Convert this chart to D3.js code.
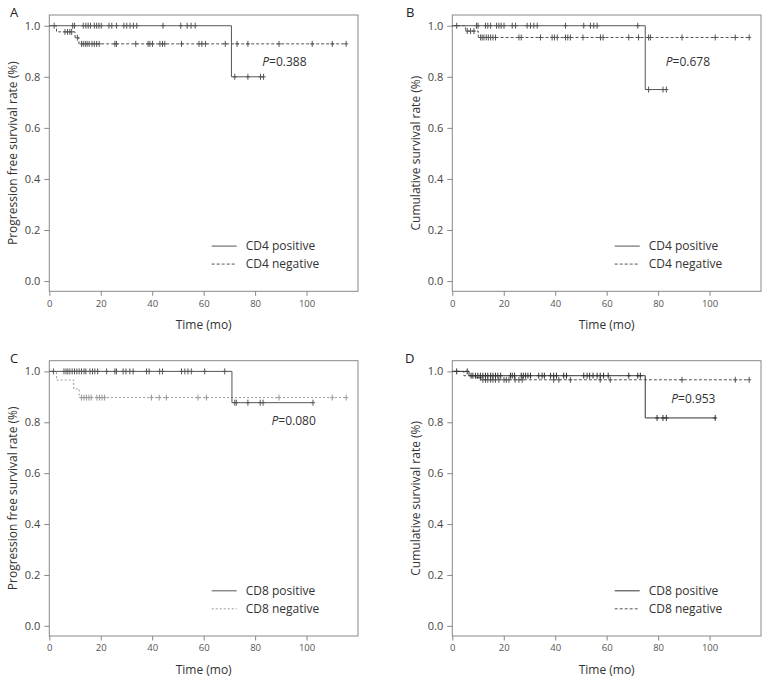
<!DOCTYPE html>
<html>
<head>
<meta charset="utf-8">
<script src="https://cdn.jsdelivr.net/npm/d3@7"></script>
<style>
  html, body { margin: 0; padding: 0; background: #fff; }
  svg { display: block; font-family: "Open Sans", "Noto Sans", sans-serif; }
</style>
</head>
<body>
<svg id="chart" width="767" height="681"></svg>
<script>
// ---------------- DATA ----------------
const panelLetters = ["A", "B", "C", "D"];
const yTitles = ["Progression free survival rate (%)", "Cumulative survival rate (%)",
                 "Progression free survival rate (%)", "Cumulative survival rate (%)"];
const xTitle = "Time (mo)";
const xTicks = [0, 20, 40, 60, 80, 100];
const yTicks = [0.0, 0.2, 0.4, 0.6, 0.8, 1.0];
const legendA = ["CD4 positive", "CD4 negative"];
const legendC = ["CD8 positive", "CD8 negative"];
const pValues = ["0.388", "0.678", "0.080", "0.953"];

// Panel A
const aPosEvents = [[70.8, 0.80]];
const aPosEnd = 83.5;
const aPosCensor = [1.9, 9.1, 9.8, 13.2, 14.2, 15.1, 16.0, 17.5, 18.4, 19.3, 20.2, 23.2, 24.3, 26.1, 29.0, 30.1, 31.4, 32.7, 34.0, 44.2, 51.1, 53.6, 55.1, 56.7, 72.1, 77.2, 82.1, 83.3];
const aNegEvents = [[2.8, 0.976], [10.0, 0.953], [11.5, 0.929]];
const aNegEnd = 115.5;
const aNegCensor = [6.1, 7.1, 8.0, 8.7, 10.9, 12.5, 13.2, 14.0, 14.7, 15.5, 16.6, 17.5, 18.4, 19.4, 25.5, 26.1, 33.6, 38.4, 39.1, 40.1, 43.0, 44.0, 44.9, 51.4, 58.2, 59.3, 60.7, 68.4, 73.0, 77.2, 89.3, 102.2, 110.0, 115.4];

// Panel B
const bPosEvents = [[75.0, 0.75]];
const bPosEnd = 83.5;
const bPosCensor = [1.7, 9.4, 10.0, 12.9, 13.8, 14.9, 17.2, 18.1, 19.0, 20.1, 23.3, 24.6, 29.1, 30.4, 31.7, 33.0, 44.0, 51.1, 53.7, 55.0, 56.3, 72.1, 76.3, 81.9, 83.2];
const bNegEvents = [[5.2, 0.979], [10.1, 0.954]];
const bNegEnd = 115.5;
const bNegCensor = [5.8, 7.1, 8.4, 11.0, 11.6, 12.3, 13.2, 14.0, 14.9, 15.8, 16.8, 25.9, 26.8, 34.3, 38.8, 39.7, 40.8, 44.0, 44.9, 45.9, 50.8, 57.6, 58.6, 68.6, 72.4, 76.3, 77.0, 89.3, 102.2, 110.0, 115.4];

// Panel C
const cPosEvents = [[71.0, 0.877]];
const cPosEnd = 102.5;
const cPosCensor = [1.6, 5.7, 6.5, 7.2, 8.0, 8.9, 9.8, 10.7, 11.6, 12.5, 13.5, 14.2, 15.8, 16.8, 17.7, 18.8, 22.3, 25.5, 26.1, 28.7, 29.8, 31.3, 32.6, 37.8, 38.8, 42.9, 44.0, 51.4, 52.7, 53.9, 55.2, 60.4, 68.2, 72.1, 72.7, 77.2, 82.0, 83.1, 102.5];
const cNegEvents = [[2.8, 0.966], [9.5, 0.931], [11.6, 0.897]];
const cNegEnd = 115.5;
const cNegCensor = [12.5, 13.5, 14.4, 15.4, 16.3, 18.5, 19.5, 20.5, 21.5, 39.7, 42.7, 45.5, 57.8, 61.1, 89.3, 110.0, 115.4];

// Panel D
const dPosEvents = [[6.5, 0.983], [75.0, 0.817]];
const dPosEnd = 102.2;
const dPosCensor = [1.7, 5.8, 7.3, 8.0, 9.0, 9.9, 10.9, 11.9, 12.9, 13.8, 14.9, 15.8, 16.8, 17.7, 18.8, 22.6, 23.3, 24.2, 26.8, 27.6, 28.5, 29.4, 30.4, 33.6, 34.9, 35.8, 38.2, 39.4, 40.5, 43.3, 44.4, 51.1, 52.4, 53.4, 54.7, 56.3, 57.5, 58.8, 60.6, 68.6, 72.1, 73.1, 79.6, 81.9, 83.2, 102.2];
const dNegEvents = [[4.5, 0.983], [9.0, 0.975], [11.0, 0.967]];
const dNegEnd = 115.5;
const dNegCensor = [10.9, 11.9, 12.9, 13.8, 14.9, 15.8, 16.8, 18.1, 20.1, 21.0, 22.0, 24.4, 25.9, 27.2, 39.4, 41.4, 45.9, 57.5, 61.4, 89.3, 110.0, 115.4];

// ---------------- LAYOUT / STYLE ----------------
const panels = [
  { x0: 49.3, x1: 358, yT: 15, yB: 291.3, letterX: 10, letterY: 17,
    pos: { ev: aPosEvents, end: aPosEnd, cen: aPosCensor, color: "#555", dash: null },
    neg: { ev: aNegEvents, end: aNegEnd, cen: aNegCensor, color: "#555", dash: "3,2" },
    legend: legendA, pAt: [82.8, 0.843] },
  { x0: 452.3, x1: 761, yT: 15, yB: 291.3, letterX: 406, letterY: 17,
    pos: { ev: bPosEvents, end: bPosEnd, cen: bPosCensor, color: "#555", dash: null },
    neg: { ev: bNegEvents, end: bNegEnd, cen: bNegCensor, color: "#555", dash: "3,2" },
    legend: legendA, pAt: [83, 0.843] },
  { x0: 49.3, x1: 358, yT: 360.7, yB: 636, letterX: 10, letterY: 363,
    pos: { ev: cPosEvents, end: cPosEnd, cen: cPosCensor, color: "#555", dash: null },
    neg: { ev: cNegEvents, end: cNegEnd, cen: cNegCensor, color: "#999", dash: "2,2" },
    legend: legendC, pAt: [86.4, 0.79] },
  { x0: 452.3, x1: 761, yT: 360.7, yB: 636, letterX: 405, letterY: 363,
    pos: { ev: dPosEvents, end: dPosEnd, cen: dPosCensor, color: "#333", dash: null },
    neg: { ev: dNegEvents, end: dNegEnd, cen: dNegCensor, color: "#555", dash: "3,2" },
    legend: legendC, pAt: [85.1, 0.875] }
];

const svg = d3.select("#chart");
const frameColor = "#888";

function valueAt(series, t) {
  let v = 1;
  for (const [et, ev] of series.ev) { if (t >= et) v = ev; }
  return v;
}

panels.forEach((p, i) => {
  const g = svg.append("g");
  const x = d3.scaleLinear().domain([0, 120]).range([p.x0, p.x1]);
  const y = d3.scaleLinear().domain([-0.04, 1.042]).range([p.yB, p.yT]);

  // frame
  g.append("rect").attr("x", p.x0).attr("y", p.yT)
    .attr("width", p.x1 - p.x0).attr("height", p.yB - p.yT)
    .attr("fill", "none").attr("stroke", frameColor).attr("stroke-width", 1);

  // axes
  const ya = g.append("g").attr("transform", `translate(${p.x0},0)`)
    .call(d3.axisLeft(y).tickValues(yTicks).tickFormat(d3.format(".1f")).tickSize(5).tickSizeOuter(0).tickPadding(4));
  ya.select(".domain").remove();
  ya.selectAll("line").attr("stroke", frameColor);
  ya.selectAll("text").attr("font-size", 11).attr("fill", "#444").attr("font-family", "Open Sans");

  const xa = g.append("g").attr("transform", `translate(0,${p.yB})`)
    .call(d3.axisBottom(x).tickValues(xTicks).tickFormat(d3.format("d")).tickSize(4.5).tickSizeOuter(0).tickPadding(4));
  xa.select(".domain").remove();
  xa.selectAll("line").attr("stroke", frameColor);
  xa.selectAll("text").attr("font-size", 9.5).attr("fill", "#555").attr("font-family", "Open Sans");

  // titles
  g.append("text").attr("x", (p.x0 + p.x1) / 2).attr("y", p.yB + 38)
    .attr("text-anchor", "middle").attr("font-size", 12).attr("fill", "#333").text(xTitle);
  g.append("text")
    .attr("transform", `translate(${p.x0 - 32.5},${(p.yT + p.yB) / 2}) rotate(-90)`)
    .attr("text-anchor", "middle").attr("font-size", 12).attr("fill", "#333").text(yTitles[i]);

  g.append("text").attr("x", p.letterX).attr("y", p.letterY)
    .attr("font-size", 13).attr("fill", "#222").text(panelLetters[i]);

  // curves
  const line = d3.line().x(d => x(d[0])).y(d => y(d[1])).curve(d3.curveStepAfter);
  [p.neg, p.pos].forEach(s => {
    const last = s.ev.length ? s.ev[s.ev.length - 1][1] : 1;
    const pts = [[0, 1], ...s.ev, [s.end, last]];
    g.append("path").attr("d", line(pts)).attr("fill", "none")
      .attr("stroke", s.color).attr("stroke-width", 1)
      .attr("stroke-dasharray", s.dash);
    const cg = g.append("g");
    s.cen.forEach(t => {
      const cx = x(t), cy = y(valueAt(s, t));
      cg.append("line").attr("x1", cx).attr("x2", cx).attr("y1", cy - 3).attr("y2", cy + 3)
        .attr("stroke", s.color).attr("stroke-width", 1);
      cg.append("line").attr("x1", cx - 2).attr("x2", cx + 2).attr("y1", cy).attr("y2", cy)
        .attr("stroke", s.color).attr("stroke-width", 1);
    });
  });

  // p value
  const pt = g.append("text").attr("x", x(p.pAt[0])).attr("y", y(p.pAt[1]))
    .attr("font-size", 12).attr("fill", "#333");
  pt.append("tspan").attr("font-style", "italic").text("P");
  pt.append("tspan").text("=" + pValues[i]);

  // legend
  const y0 = y(0);
  [[p.pos, -35], [p.neg, -17]].forEach(([s, off], k) => {
    g.append("line").attr("x1", p.x0 + 162.4).attr("x2", p.x0 + 187.4)
      .attr("y1", y0 + off).attr("y2", y0 + off)
      .attr("stroke", s.color).attr("stroke-width", 1).attr("stroke-dasharray", s.dash);
    g.append("text").attr("x", p.x0 + 196.4).attr("y", y0 + off + 4)
      .attr("font-size", 12).attr("fill", "#333").text(p.legend[k]);
  });
});
</script>
</body>
</html>
